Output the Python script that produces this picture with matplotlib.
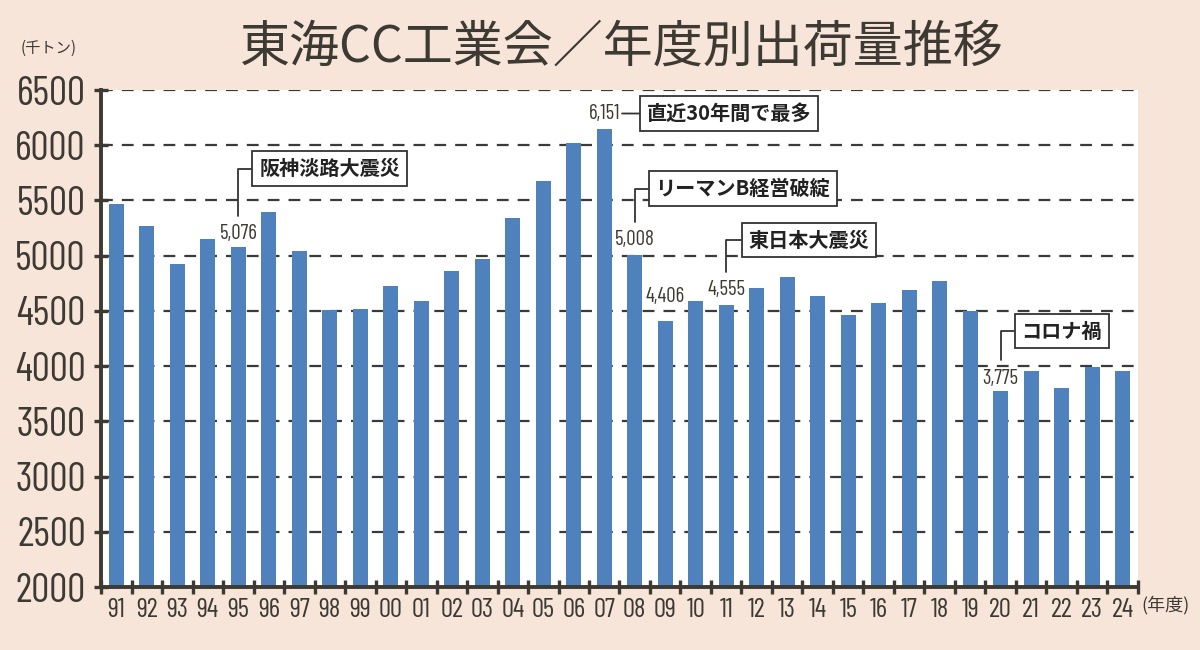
import matplotlib

matplotlib.use("Agg")

import matplotlib.pyplot as plt
import numpy as np
from matplotlib import font_manager

plt.rcParams["font.family"] = ["Noto Sans CJK JP", "DejaVu Sans"]
plt.rcParams["lines.scale_dashes"] = False


def _pick_narrow_font() -> str:
    names = {f.name for f in font_manager.fontManager.ttflist}
    for name in ["Barlow Condensed", "Roboto Condensed", "Archivo Narrow",
                 "PT Sans Narrow", "IBM Plex Sans Condensed", "Liberation Sans Narrow"]:
        if name in names:
            return name
    return "DejaVu Sans"


NARROW = [_pick_narrow_font(), "DejaVu Sans"]
INK = "#3c3a32"
PEACH = "#F7E5D9"
BAR_BLUE = "#4F81BD"

YEARS = ["91", "92", "93", "94", "95", "96", "97", "98", "99", "00",
         "01", "02", "03", "04", "05", "06", "07", "08", "09", "10",
         "11", "12", "13", "14", "15", "16", "17", "18", "19", "20",
         "21", "22", "23", "24"]
VOLUMES = [5470, 5268, 4924, 5150, 5076, 5395, 5045, 4508, 4517, 4728,
           4589, 4858, 4968, 5340, 5675, 6020, 6151, 5008, 4406, 4592,
           4555, 4705, 4805, 4635, 4462, 4570, 4690, 4775, 4499, 3775,
           3958, 3798, 3990, 3958]
# value labels and their lift above the bar top, in points
LABELED_YEARS = {"95": 3, "07": 4, "08": 4, "09": 11, "11": 4, "20": 2.5}
EVENTS = [
    ("95", "阪神淡路大震災"),
    ("07", "直近30年間で最多"),
    ("08", "リーマンB経営破綻"),
    ("11", "東日本大震災"),
    ("20", "コロナ禍"),
]
# box offset from the value label, in points: (dx, dy, vertical leader?)
EVENT_OFFSETS = {
    "95": (15, 40, True),
    "07": (19, 0, False),
    "08": (15, 30, True),
    "11": (16, 29, True),
    "20": (15, 27, True),
}
Y_TICKS = [2000, 2500, 3000, 3500, 4000, 4500, 5000, 5500, 6000, 6500]

fig = plt.figure(figsize=(12, 6.5), dpi=100, facecolor=PEACH)
ax = fig.add_axes([0.0842, 0.0969, 0.8641, 0.7646])
ax.set_facecolor("white")

x = np.arange(len(YEARS))
ax.bar(x, VOLUMES, width=0.48, color=BAR_BLUE, zorder=3)

ax.set_xlim(-0.5, len(YEARS) - 0.5)
ax.set_ylim(Y_TICKS[0], Y_TICKS[-1])

ax.set_yticks(Y_TICKS)
ax.set_yticklabels([str(t) for t in Y_TICKS], family=NARROW, fontsize=29, color=INK)
ax.yaxis.grid(True, color="#3a3a3a", linewidth=1.6, linestyle=(0, (8.5, 6.5)), zorder=1)
ax.set_axisbelow(True)

ax.set_xticks(np.arange(len(YEARS) + 1) - 0.5)
ax.set_xticklabels([])
ax.set_xticks(x, minor=True)
ax.set_xticklabels(YEARS, minor=True, family=NARROW, fontsize=19.5, color=INK)
ax.tick_params(axis="x", which="minor", length=0, pad=8)
ax.tick_params(axis="x", which="major", direction="inout", length=10, width=2.4, color=INK)
ax.tick_params(axis="y", direction="inout", length=10, width=2.4, color=INK, pad=6)

for side in ("top", "right"):
    ax.spines[side].set_visible(False)
for side in ("left", "bottom"):
    ax.spines[side].set_linewidth(2.8)
    ax.spines[side].set_color(INK)
    ax.spines[side].set_zorder(5)

value_labels = {}
for year, lift in LABELED_YEARS.items():
    i = YEARS.index(year)
    value_labels[year] = ax.annotate(
        f"{VOLUMES[i]:,}", xy=(i, VOLUMES[i]), xytext=(0, lift),
        textcoords="offset points", ha="center", va="bottom",
        family=NARROW, fontsize=15, color=INK, zorder=6,
    )

for year, text in EVENTS:
    dx, dy, vertical = EVENT_OFFSETS[year]
    label = value_labels[year]
    if vertical:
        anchor = (0.5, 1.0)
        conn = "angle,angleA=0,angleB=90,rad=0"
        shrink = 6
    else:
        anchor = (1.0, 0.5)
        conn = "arc3,rad=0"
        shrink = 1.5
    ax.annotate(
        text, xy=anchor, xycoords=label, xytext=(dx, dy),
        textcoords="offset points", ha="left", va="center",
        fontsize=14.5, fontweight="bold", color="#222222", zorder=7,
        bbox=dict(boxstyle="square,pad=0.33", fc="white", ec="#333333", lw=1.3),
        arrowprops=dict(arrowstyle="-", color="#333333", lw=1.3,
                        connectionstyle=conn, relpos=(0, 0.5),
                        shrinkA=0, shrinkB=shrink),
        annotation_clip=False,
    )

fig.text(0.518, 1 - 48 / 650, "東海CC工業会／年度別出荷量推移",
         ha="center", va="center", fontsize=36, color=INK)
fig.text(0.017, 1 - 48 / 650, "(千トン)", ha="left", va="center",
         fontsize=11, color=INK)
fig.text(0.951, 1 - 605 / 650, "(年度)", ha="left", va="center",
         fontsize=13, color=INK)

fig.savefig("out.png", dpi=100, facecolor=PEACH)
